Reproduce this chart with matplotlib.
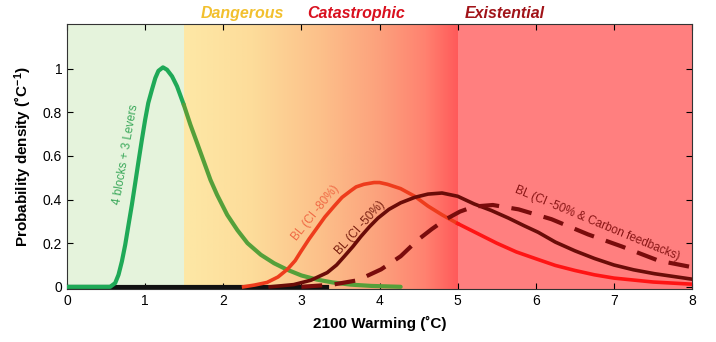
import numpy as np
import matplotlib
matplotlib.use("Agg")
import matplotlib.pyplot as plt
from matplotlib.colors import LinearSegmentedColormap

plt.rcParams['font.family'] = ['Liberation Sans', 'DejaVu Sans']
plt.rcParams['mathtext.default'] = 'regular'

# curves (warming in C, probability density)
x_green = [0.0, 0.552, 0.616, 0.659, 0.702, 0.745, 0.787, 0.83, 0.873, 0.915, 0.958,
           1.0, 1.04, 1.087, 1.13, 1.17, 1.228, 1.28, 1.344, 1.408, 1.494, 1.579, 1.665,
           1.75, 1.836, 1.92, 2.05, 2.18, 2.31, 2.48, 2.65, 2.82, 3.0, 3.2, 3.4, 3.63,
           3.9, 4.27]
y_green = [0.0, 0.0, 0.017, 0.055, 0.116, 0.193, 0.284, 0.376, 0.476, 0.575, 0.674,
           0.766, 0.843, 0.904, 0.957, 0.99, 1.006, 0.995, 0.965, 0.919, 0.835, 0.743,
           0.659, 0.575, 0.49, 0.422, 0.33, 0.26, 0.2, 0.147, 0.108, 0.078, 0.052,
           0.033, 0.02, 0.01, 0.004, 0.0]

x_red = [2.26, 2.4, 2.56, 2.7, 2.82, 2.92, 2.99, 3.1, 3.21, 3.3, 3.42, 3.52, 3.63, 3.7,
         3.8, 3.93, 4.0, 4.1, 4.27, 4.45, 4.62, 4.8, 5.0, 5.25, 5.5, 5.75, 6.03, 6.25,
         6.5, 6.75, 7.0, 7.5, 8.0]
y_red = [0.0, 0.008, 0.02, 0.045, 0.08, 0.12, 0.16, 0.22, 0.275, 0.32, 0.37, 0.41,
         0.44, 0.458, 0.47, 0.478, 0.478, 0.47, 0.45, 0.415, 0.37, 0.33, 0.29, 0.245,
         0.2, 0.16, 0.125, 0.098, 0.075, 0.055, 0.04, 0.022, 0.012]

x_brown = [2.6, 2.9, 3.12, 3.33, 3.45, 3.55, 3.66, 3.76, 3.87, 3.98, 4.12, 4.27, 4.45,
           4.62, 4.8, 5.0, 5.21, 5.43, 5.65, 5.85, 6.03, 6.25, 6.5, 6.75, 7.0, 7.25,
           7.52, 8.0]
y_brown = [0.0, 0.01, 0.03, 0.065, 0.1, 0.14, 0.185, 0.23, 0.275, 0.315, 0.355, 0.385,
           0.41, 0.425, 0.43, 0.415, 0.38, 0.35, 0.315, 0.28, 0.25, 0.205, 0.165, 0.13,
           0.1, 0.078, 0.06, 0.035]

x_dash = [3.0, 3.4, 3.72, 4.02, 4.27, 4.49, 4.67, 4.85, 5.03, 5.21, 5.45, 5.78, 6.2,
          6.67, 7.1, 7.57, 8.0]
y_dash = [0.0, 0.01, 0.03, 0.08, 0.14, 0.215, 0.265, 0.31, 0.345, 0.368, 0.375, 0.355,
          0.31, 0.24, 0.185, 0.12, 0.09]

x_flat = [0.0, 3.33]
y_flat = [0.0, 0.0]

zones = ["Dangerous", "Catastrophic", "Existential"]
zone_x = [2.25, 3.7, 5.6]
zone_colors = ["#f2c02e", "#d9101e", "#a11419"]

x_green, y_green = np.array(x_green), np.array(y_green)
x_red, y_red = np.array(x_red), np.array(y_red)

fig = plt.figure(figsize=(7.16, 3.42), dpi=100)
ax = fig.add_axes([0.0936, 0.155, 0.873, 0.775])
ax.set_xlim(0, 8)
ax.set_ylim(-0.01, 1.205)

# background bands
ax.axvspan(0, 1.5, color="#e5f3dc", lw=0, zorder=0)
ax.axvspan(5, 8, color="#ff7f7f", lw=0, zorder=0)
grad = LinearSegmentedColormap.from_list("warm", [
    (0.0, "#fde8a6"), (0.25, "#fddc9a"), (0.5, "#fcc08a"),
    (0.72, "#fca07c"), (0.88, "#ff8270"), (1.0, "#ff5a5a")])
ax.imshow(np.linspace(0, 1, 256)[None, :], cmap=grad, aspect="auto",
          extent=[1.5, 5, -0.01, 1.205], zorder=0)

ax.plot(x_flat, y_flat, color="#111111", lw=3, zorder=2)

m = x_green <= 1.5
ax.plot(x_green[m], y_green[m], color="#1fa957", lw=3, solid_capstyle="round", zorder=3)
m = x_green >= 1.494
ax.plot(x_green[m], y_green[m], color="#55a03a", lw=3, solid_capstyle="round", zorder=3)

m = x_red <= 5
ax.plot(x_red[m], y_red[m], color="#ee3c1c", lw=2.6, zorder=4)
m = x_red >= 5
ax.plot(x_red[m], y_red[m], color="#ff1414", lw=2.6, zorder=4)

ax.plot(x_brown, y_brown, color="#6a0c08", lw=2.6, zorder=5)
ax.plot(x_dash, y_dash, color="#7a0c0c", lw=3, ls=(0, (5, 3)), zorder=5)

# curve labels
ax.text(0.75, 0.605, "4 blocks + 3 Levers", color="#3aa85a", fontsize=8.5,
        rotation=80, ha="center", va="center")
ax.text(3.18, 0.34, "BL (CI -80%)", color="#f06a45", fontsize=8.5,
        rotation=51, ha="center", va="center")
ax.text(3.75, 0.27, "BL (CI -50%)", color="#7a2010", fontsize=8.5,
        rotation=48, ha="center", va="center")
ax.text(6.78, 0.29, "BL (CI -50% & Carbon feedbacks)", color="#8a1515",
        fontsize=8.5, rotation=-22.5, ha="center", va="center")

for name, xp, c in zip(zones, zone_x, zone_colors):
    ax.text(xp, 1.255, name, color=c, fontsize=11.5, fontweight="bold",
            fontstyle="italic", ha="center", va="center", clip_on=False)

ax.set_xticks(range(0, 9))
ax.set_yticks([0, 0.2, 0.4, 0.6, 0.8, 1])
ax.set_yticklabels(["0", "0.2", "0.4", "0.6", "0.8", "1"])
ax.tick_params(direction="in", top=True, right=True, labelsize=10, length=4)
for s in ax.spines.values():
    s.set_color("#333333")
    s.set_linewidth(0.8)

ax.set_xlabel("2100 Warming (˚C)", fontsize=11, fontweight="bold", labelpad=6)
ax.set_ylabel("Probability density (˚C$^{-1}$)", fontsize=11, fontweight="bold",
              labelpad=6)

fig.savefig("out.png", dpi=100)
